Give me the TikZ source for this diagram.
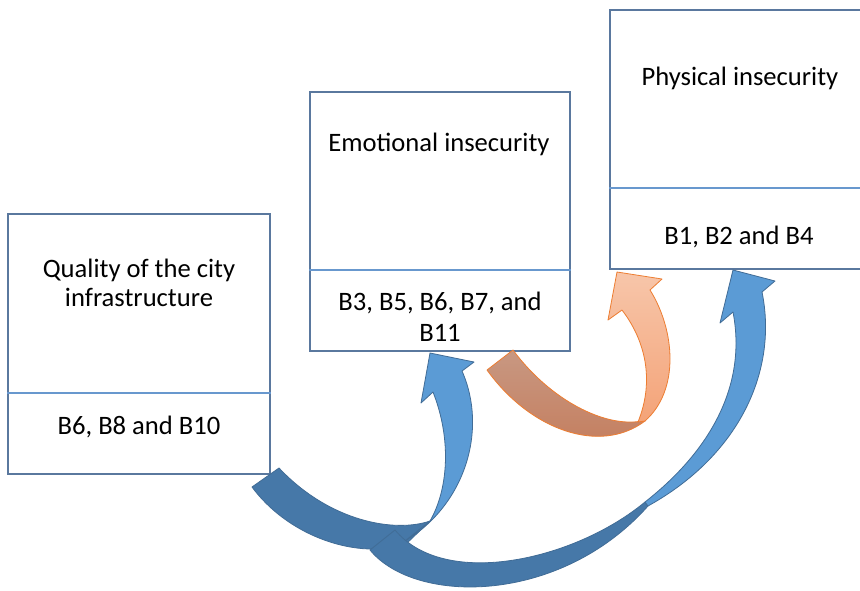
\documentclass[tikz,border=0pt]{standalone}
\usepackage{fontspec}
\setmainfont{Carlito}
\definecolor{boxline}{RGB}{90,120,158}
\definecolor{divline}{RGB}{104,152,206}
\definecolor{bluedk}{RGB}{70,120,168}
\definecolor{bluelt}{RGB}{91,155,213}
\definecolor{blueol}{RGB}{65,108,150}
\definecolor{orol}{RGB}{237,125,49}
\definecolor{brtop}{RGB}{200,152,130}
\definecolor{brbot}{RGB}{196,124,92}
\definecolor{ortop}{RGB}{247,198,170}
\definecolor{orbot}{RGB}{244,163,120}
\begin{document}
\begin{tikzpicture}[x=1pt,y=-1pt,
  box/.style={draw=boxline, line width=1.5pt, fill=white, minimum width=260pt, minimum height=259pt, inner sep=0pt},
  lbl/.style={font=\fontsize{26.6}{31}\selectfont, anchor=base, inner sep=0pt, text=black},
  divider/.style={draw=divline, line width=1.5pt},
  bluedark/.style={fill=bluedk, draw=blueol, line width=0.8pt, line join=round},
  bluelight/.style={fill=bluelt, draw=blueol, line width=0.8pt, line join=round},
  browndark/.style={top color=brtop, bottom color=brbot, draw=orol, line width=0.8pt, line join=round},
  orangelight/.style={top color=ortop, bottom color=orbot, draw=orol, line width=0.8pt, line join=round}]
\useasboundingbox (0,0) rectangle (860,590);
\fill[white] (0,0) rectangle (860,590);

% boxes
\node[box, minimum width=262pt, minimum height=260pt] (qa) at (139,344) {};
\node[box] (eb) at (440,221.5) {};
\node[box] (pc) at (740,139.5) {};
\coordinate (ya) at (0,393);
\coordinate (yb) at (0,270);
\coordinate (yc) at (0,188);
\draw[divider] (qa.west |- ya) -- (qa.east |- ya);
\draw[divider] (eb.west |- yb) -- (eb.east |- yb);
\draw[divider] (pc.west |- yc) -- (pc.east |- yc);

% texts
\node[lbl] (qa1) at (139,277) {Quality of the city};
\node[lbl] (qa2) at (139,306) {infrastructure};
\node[lbl] (qa3) at (139,434) {B6, B8 and B10};
\node[lbl] (eb1) at (439,151) {Emotional insecurity};
\node[lbl] (eb2) at (440,310) {B3, B5, B6, B7, and};
\node[lbl] (eb3) at (440,341) {B11};
\node[lbl] (pc1) at (740,85) {Physical insecurity};
\node[lbl] (pc2) at (739,244) {B1, B2 and B4};

% arrow 1 : quality -> emotional
\path[bluedark] (252,487) .. controls (285,532) and (350,560) .. (405,545)
  -- (430,521) .. controls (395,533) and (330,522) .. (279,468) -- cycle;
\path[bluelight] (405,541) .. controls (465,505) and (488,430) .. (462,371)
  -- (474,362) -- (430,353) -- (421,403) -- (433,392)
  .. controls (452,440) and (448,490) .. (430,521) -- cycle;

% arrow 2 : quality -> physical
\path[bluedark] (370,550) .. controls (415,605) and (560,605) .. (648,506)
  -- (645,502) .. controls (575,560) and (445,590) .. (395,530) -- cycle;
\path[bluelight] (645,502) .. controls (705,455) and (748,390) .. (733,312)
  -- (720,323) -- (733,270) -- (775,281) -- (762,292)
  .. controls (778,370) and (740,455) .. (648,506) -- cycle;

% arrow 3 : emotional -> physical
\path[browndark] (487,370) .. controls (530,430) and (600,455) .. (645,421)
  -- (642,421) .. controls (605,428) and (550,400) .. (513,350) -- cycle;
\path[orangelight] (638,422) .. controls (655,380) and (645,340) .. (622,310)
  -- (608,320) -- (617,272) -- (662,279) -- (650,290)
  .. controls (675,330) and (680,390) .. (645,421) -- cycle;
\end{tikzpicture}
\end{document}
